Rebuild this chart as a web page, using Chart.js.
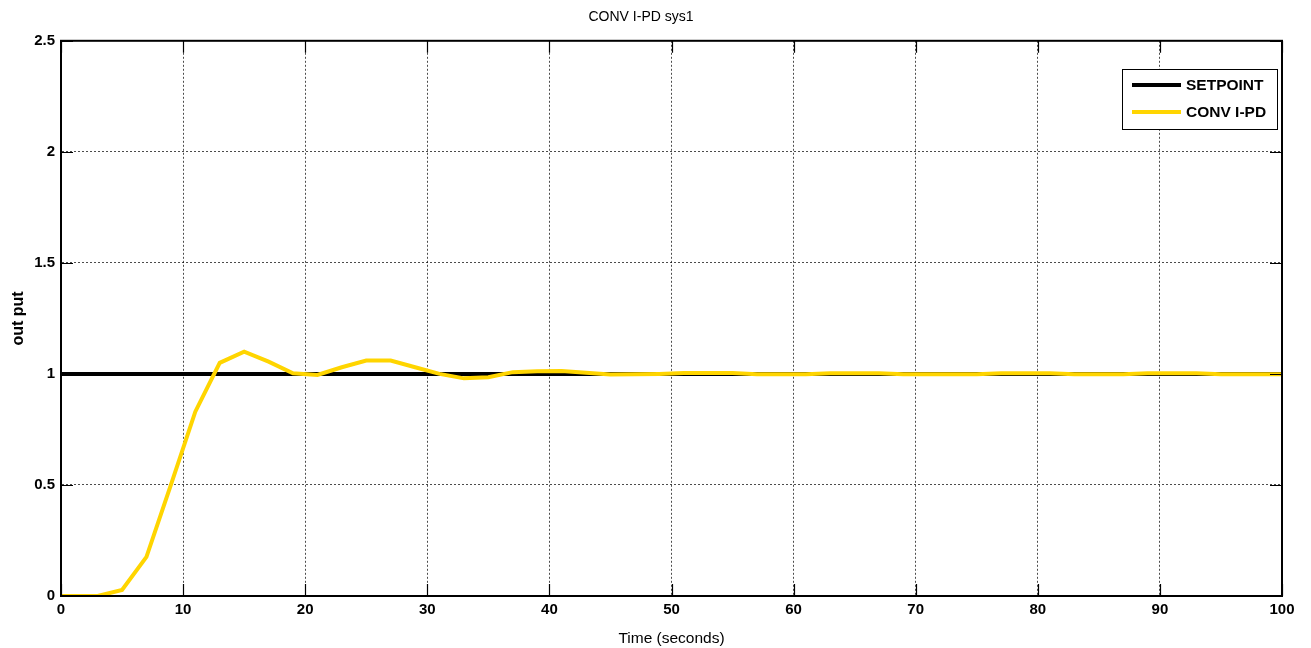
<!DOCTYPE html>
<html>
<head>
<meta charset="utf-8">
<title>CONV I-PD sys1</title>
<script src="https://cdn.jsdelivr.net/npm/chart.js@4"></script>
<style>
  html, body { margin: 0; padding: 0; background: #fff; }
  #wrap { width: 1311px; height: 648px; position: relative; }
</style>
</head>
<body>
<div id="wrap"><canvas id="respChart"></canvas></div>
<script>
// Data
const timeVals   = [0, 3, 5, 7, 9, 11, 13, 15, 17, 19, 21, 23, 25, 27, 29, 31, 33, 35, 37, 39, 41, 43, 45, 47, 49,
                    51, 55, 57, 61, 63, 67, 69, 75, 77, 81, 83, 87, 89, 93, 95, 100];
const outputVals = [0, 0, 0.027, 0.176, 0.50, 0.83, 1.05, 1.10, 1.055, 1.003, 0.995, 1.03, 1.06, 1.06, 1.03, 1.0, 0.98, 0.985, 1.008, 1.012, 1.013, 1.005, 0.997, 0.998, 1.0,
                    1.004, 1.004, 0.999, 0.999, 1.003, 1.003, 0.999, 0.999, 1.003, 1.003, 0.999, 0.999, 1.003, 1.003, 0.999, 0.999];
const setpointTime = [0, 100];
const setpointVals = [1, 1];
const yTicks = [0, 0.5, 1, 1.5, 2, 2.5];
const xTicks = [0, 10, 20, 30, 40, 50, 60, 70, 80, 90, 100];

const seriesNames = ['SETPOINT', 'CONV I-PD'];
const seriesColors = ['#000000', '#FFD500'];

const FONT = '"Liberation Sans", Arial, sans-serif';

function toPoints(xs, ys) {
    return xs.map((x, i) => ({ x: x, y: ys[i] }));
}

// solid frame plus inward tick marks, like the matlab axes
const frame = {
    id: 'frame',
    afterDatasetsDraw(c) {
        const a = c.chartArea, g = c.ctx;
        const xs = c.scales.x, ys = c.scales.y;
        g.save();
        g.strokeStyle = '#000';
        g.lineWidth = 1.2;
        xTicks.forEach(v => {
            const px = Math.round(xs.getPixelForValue(v)) + 0.5;
            g.beginPath();
            g.moveTo(px, a.top); g.lineTo(px, a.top + 12);
            g.moveTo(px, a.bottom); g.lineTo(px, a.bottom - 12);
            g.stroke();
        });
        yTicks.forEach(v => {
            const py = Math.round(ys.getPixelForValue(v)) + 0.5;
            g.beginPath();
            g.moveTo(a.left, py); g.lineTo(a.left + 12, py);
            g.moveTo(a.right, py); g.lineTo(a.right - 12, py);
            g.stroke();
        });
        g.lineWidth = 2;
        g.strokeRect(a.left, a.top, a.right - a.left, a.bottom - a.top);
        g.restore();
    }
};

// Boxed legend in the top-right corner
const boxLegend = {
    id: 'boxLegend',
    afterDraw(chart) {
        const ctx = chart.ctx;
        const x0 = 1122, y0 = 69, w = 155, h = 60;
        ctx.save();
        ctx.fillStyle = '#fff';
        ctx.fillRect(x0, y0, w, h);
        ctx.strokeStyle = '#000';
        ctx.lineWidth = 1;
        ctx.strokeRect(x0 + 0.5, y0 + 0.5, w, h);
        ctx.font = 'bold 15.5px ' + FONT;
        ctx.textBaseline = 'middle';
        seriesNames.forEach((name, i) => {
            const yy = y0 + 16 + i * 27;
            ctx.strokeStyle = seriesColors[i];
            ctx.lineWidth = 4;
            ctx.beginPath();
            ctx.moveTo(x0 + 10, yy);
            ctx.lineTo(x0 + 59, yy);
            ctx.stroke();
            ctx.fillStyle = '#000';
            ctx.fillText(name, x0 + 64, yy + 1);
        });
        ctx.restore();
    }
};

const ctx = document.getElementById('respChart').getContext('2d');
const chart = new Chart(ctx, {
    type: 'line',
    data: {
        datasets: [
            {
                label: seriesNames[0],
                data: toPoints(setpointTime, setpointVals),
                borderColor: seriesColors[0],
                borderWidth: 4,
                pointRadius: 0,
                tension: 0,
                order: 2
            },
            {
                label: seriesNames[1],
                data: toPoints(timeVals, outputVals),
                borderColor: seriesColors[1],
                borderWidth: 4,
                pointRadius: 0,
                tension: 0,
                order: 1
            }
        ]
    },
    options: {
        responsive: true,
        maintainAspectRatio: false,
        animation: false,
        layout: { padding: { left: 0, right: 29, top: 0, bottom: 0 } },
        plugins: {
            legend: { display: false },
            tooltip: { enabled: false },
            title: {
                display: true,
                text: 'CONV I-PD sys1',
                color: '#000',
                font: { family: FONT, size: 14, weight: 'normal' },
                padding: { top: 9, bottom: 15 }
            }
        },
        scales: {
            x: {
                type: 'linear',
                min: 0,
                max: 100,
                afterBuildTicks: (scale) => { scale.ticks = xTicks.map(v => ({ value: v })); },
                afterFit: (scale) => { scale.height = 52; },
                border: { display: true, color: '#000', width: 2, dash: [2, 2] },
                grid: { color: '#000', lineWidth: 0.7, drawTicks: false },
                ticks: {
                    color: '#000',
                    padding: 5,
                    maxRotation: 0,
                    font: { family: FONT, size: 15, weight: 'bold' }
                },
                title: {
                    display: true,
                    text: 'Time (seconds)',
                    color: '#000',
                    padding: { top: 1, bottom: 0 },
                    font: { family: FONT, size: 15.5, weight: 'normal' }
                }
            },
            y: {
                type: 'linear',
                min: 0,
                max: 2.5,
                afterBuildTicks: (scale) => { scale.ticks = yTicks.map(v => ({ value: v })); },
                afterFit: (scale) => { scale.width = 61; },
                border: { display: true, color: '#000', width: 2, dash: [2, 2] },
                grid: { color: '#000', lineWidth: 0.7, drawTicks: false },
                ticks: {
                    color: '#000',
                    padding: 6,
                    font: { family: FONT, size: 15, weight: 'bold' },
                    callback: (v) => String(v)
                },
                title: {
                    display: true,
                    text: 'out put',
                    color: '#000',
                    padding: { top: 9, bottom: 0 },
                    font: { family: FONT, size: 16, weight: 'bold' }
                }
            }
        }
    },
    plugins: [frame, boxLegend]
});
</script>
</body>
</html>
